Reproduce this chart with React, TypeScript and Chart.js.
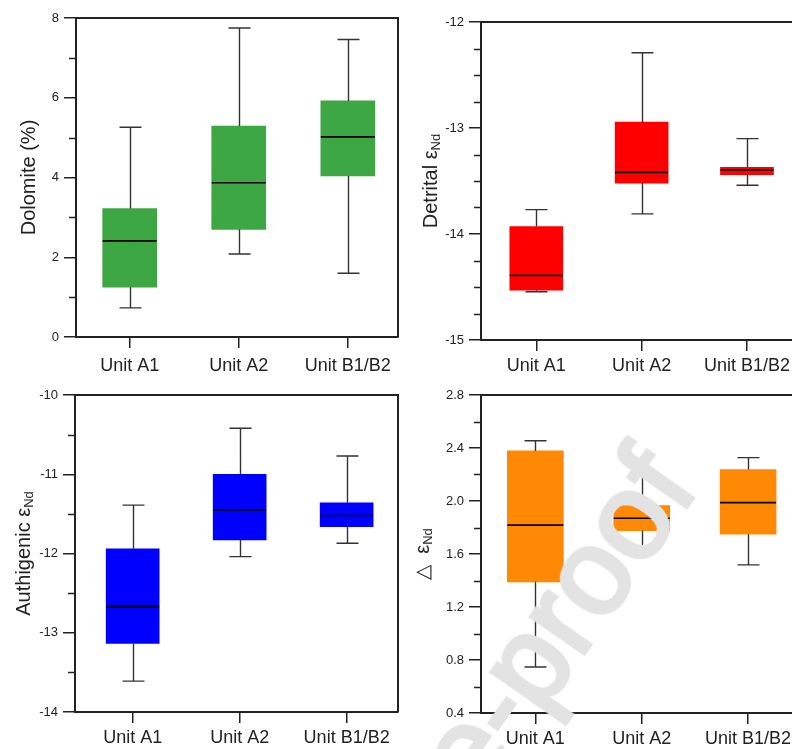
import React, { useEffect, useRef } from 'react';
import { Chart, registerables } from 'chart.js';

Chart.register(...registerables);

const categories = ['Unit A1', 'Unit A2', 'Unit B1/B2'];

// Dolomite (%)
const dolomiteMin = [0.73, 2.08, 1.6];
const dolomiteQ1 = [1.25, 2.7, 4.04];
const dolomiteMedian = [2.41, 3.87, 5.02];
const dolomiteQ3 = [3.22, 5.29, 5.92];
const dolomiteMax = [5.26, 7.75, 7.46];
const dolomiteTicks = [0, 2, 4, 6, 8];

// Detrital eNd
const detritalMin = [-14.545, -13.81, -13.54];
const detritalQ1 = [-14.53, -13.52, -13.44];
const detritalMedian = [-14.39, -13.42, -13.395];
const detritalQ3 = [-13.93, -12.945, -13.37];
const detritalMax = [-13.77, -12.29, -13.1];
const detritalTicks = [-15, -14, -13, -12];

// Authigenic eNd
const authigenicMin = [-13.61, -12.04, -11.87];
const authigenicQ1 = [-13.135, -11.83, -11.66];
const authigenicMedian = [-12.67, -11.45, -11.52];
const authigenicQ3 = [-11.94, -11.0, -11.36];
const authigenicMax = [-11.39, -10.42, -10.77];
const authigenicTicks = [-14, -13, -12, -11, -10];

// Delta eNd
const deltaMin = [0.747, 1.656, 1.518];
const deltaQ1 = [1.39, 1.777, 1.75];
const deltaMedian = [1.818, 1.87, 1.988];
const deltaQ3 = [2.378, 1.965, 2.237];
const deltaMax = [2.455, 2.24, 2.327];
const deltaTicks = [0.4, 0.8, 1.2, 1.6, 2.0, 2.4, 2.8];

const FONT = '"Liberation Sans", Arial, sans-serif';
const INK = '#222';

type Panel = {
  key: string;
  left: number; top: number; width: number; height: number;
  area: { left: number; top: number; right: number; bottom: number };
  xMin: number; xMax: number;
  ticks: number[]; minorDiv: number; decimals: number;
  mins: number[]; q1: number[]; medians: number[]; q3: number[]; maxs: number[];
  color: string; boxWidth: number; capWidth: number; labelPad: number;
  title: string; sub: string; titleX: number;
};

const panels: Panel[] = [
  {
    key: 'dolomite', left: 0, top: 0, width: 400, height: 380,
    area: { left: 76, top: 18, right: 398, bottom: 337 },
    xMin: 0.508, xMax: 3.46,
    ticks: dolomiteTicks, minorDiv: 2, decimals: 0,
    mins: dolomiteMin, q1: dolomiteQ1, medians: dolomiteMedian, q3: dolomiteQ3, maxs: dolomiteMax,
    color: '#3da843', boxWidth: 54, capWidth: 22, labelPad: 7,
    title: 'Dolomite (%)', sub: '', titleX: 34.5,
  },
  {
    key: 'detrital', left: 400, top: 0, width: 400, height: 380,
    area: { left: 81, top: 22, right: 395, bottom: 340 },
    xMin: 0.475, xMax: 3.456,
    ticks: detritalTicks, minorDiv: 4, decimals: 0,
    mins: detritalMin, q1: detritalQ1, medians: detritalMedian, q3: detritalQ3, maxs: detritalMax,
    color: '#ff0000', boxWidth: 53, capWidth: 22, labelPad: 4,
    title: 'Detrital ε', sub: 'Nd', titleX: 36.5,
  },
  {
    key: 'authigenic', left: 0, top: 380, width: 400, height: 369,
    area: { left: 75, top: 15, right: 398, bottom: 332 },
    xMin: 0.461, xMax: 3.48,
    ticks: authigenicTicks, minorDiv: 2, decimals: 0,
    mins: authigenicMin, q1: authigenicQ1, medians: authigenicMedian, q3: authigenicQ3, maxs: authigenicMax,
    color: '#0000ff', boxWidth: 53, capWidth: 22, labelPad: 4,
    title: 'Authigenic ε', sub: 'Nd', titleX: 29.5,
  },
  {
    key: 'delta', left: 400, top: 380, width: 400, height: 369,
    area: { left: 81, top: 15, right: 395, bottom: 333 },
    xMin: 0.489, xMax: 3.441,
    ticks: deltaTicks, minorDiv: 2, decimals: 1,
    mins: deltaMin, q1: deltaQ1, medians: deltaMedian, q3: deltaQ3, maxs: deltaMax,
    color: '#ff8804', boxWidth: 56, capWidth: 22, labelPad: 4,
    title: '\u25B3  ε', sub: 'Nd', titleX: 28.5,
  },
];

function makeBoxPlugin(p: Panel) {
  return {
    id: 'boxplot-' + p.key,
    afterDatasetsDraw(chart: any) {
      const ctx: CanvasRenderingContext2D = chart.ctx;
      const xs = chart.scales.x;
      const ys = chart.scales.y;
      const a = chart.chartArea;
      ctx.save();
      // whiskers and caps
      ctx.strokeStyle = '#333';
      ctx.lineWidth = 1.4;
      p.q1.forEach((_, i) => {
        const cx = Math.round(xs.getPixelForValue(i + 1)) + 0.5;
        const yMin = ys.getPixelForValue(p.mins[i]);
        const yQ1 = ys.getPixelForValue(p.q1[i]);
        const yQ3 = ys.getPixelForValue(p.q3[i]);
        const yMax = ys.getPixelForValue(p.maxs[i]);
        ctx.beginPath();
        ctx.moveTo(cx, yQ1);
        ctx.lineTo(cx, yMin);
        ctx.moveTo(cx, yQ3);
        ctx.lineTo(cx, yMax);
        ctx.moveTo(cx - p.capWidth / 2, yMin);
        ctx.lineTo(cx + p.capWidth / 2, yMin);
        ctx.moveTo(cx - p.capWidth / 2, yMax);
        ctx.lineTo(cx + p.capWidth / 2, yMax);
        ctx.stroke();
      });
      // medians
      ctx.strokeStyle = '#000';
      ctx.lineWidth = 1.6;
      p.medians.forEach((m, i) => {
        const cx = xs.getPixelForValue(i + 1);
        const y = ys.getPixelForValue(m);
        ctx.beginPath();
        ctx.moveTo(cx - p.boxWidth / 2, y);
        ctx.lineTo(cx + p.boxWidth / 2, y);
        ctx.stroke();
      });
      // frame (top + right)
      ctx.strokeStyle = INK;
      ctx.lineWidth = 2;
      ctx.beginPath();
      ctx.moveTo(a.left, a.top);
      ctx.lineTo(a.right, a.top);
      ctx.lineTo(a.right, a.bottom);
      ctx.stroke();
      // minor ticks
      ctx.lineWidth = 1.5;
      ctx.beginPath();
      for (let k = 0; k < p.ticks.length - 1; k++) {
        const lo = p.ticks[k];
        const hi = p.ticks[k + 1];
        for (let j = 1; j < p.minorDiv; j++) {
          const v = lo + ((hi - lo) * j) / p.minorDiv;
          const y = Math.round(ys.getPixelForValue(v)) + 0.5;
          ctx.moveTo(a.left - 7, y);
          ctx.lineTo(a.left, y);
        }
      }
      ctx.stroke();
      // y title with subscript
      const mainFont = '20px ' + FONT;
      const subFont = '13px ' + FONT;
      ctx.font = mainFont;
      const mw = ctx.measureText(p.title).width;
      ctx.font = subFont;
      const sw = p.sub ? ctx.measureText(p.sub).width : 0;
      const total = mw + sw;
      const cy = (a.top + a.bottom) / 2;
      ctx.translate(p.titleX, cy);
      ctx.rotate(-Math.PI / 2);
      ctx.fillStyle = INK;
      ctx.textBaseline = 'alphabetic';
      ctx.textAlign = 'left';
      ctx.font = mainFont;
      ctx.fillText(p.title, -total / 2, 0);
      if (p.sub) {
        ctx.font = subFont;
        ctx.fillText(p.sub, -total / 2 + mw, 3);
      }
      ctx.restore();
    },
  };
}

function BoxChart({ p }: { p: Panel }) {
  const ref = useRef<HTMLCanvasElement | null>(null);
  useEffect(() => {
    if (!ref.current) return;
    const chart = new Chart(ref.current, {
      type: 'bar',
      data: {
        datasets: [
          {
            data: p.q1.map((v, i) => ({ x: i + 1, y: [v, p.q3[i]] })) as any,
            backgroundColor: p.color,
            borderWidth: 0,
            barThickness: p.boxWidth,
          } as any,
        ],
      },
      options: {
        animation: false,
        responsive: false,
        devicePixelRatio: 1,
        layout: {
          padding: { left: 0, top: p.area.top, right: p.width - p.area.right, bottom: 0 },
        },
        plugins: { legend: { display: false }, tooltip: { enabled: false } },
        scales: {
          x: {
            type: 'linear',
            min: p.xMin,
            max: p.xMax,
            offset: false,
            bounds: 'data',
            afterBuildTicks: (s: any) => {
              s.ticks = categories.map((_, i) => ({ value: i + 1 }));
            },
            afterFit: (s: any) => {
              s.height = p.height - p.area.bottom;
            },
            ticks: {
              callback: (v: any) => categories[Math.round(Number(v)) - 1] ?? '',
              font: { family: FONT, size: 18 },
              color: INK,
              padding: p.labelPad,
              maxRotation: 0,
              autoSkip: false,
            },
            grid: { offset: false, drawOnChartArea: false, drawTicks: true, tickLength: 11, color: INK, lineWidth: 1.5 },
            border: { display: true, color: INK, width: 2 },
          },
          y: {
            type: 'linear',
            min: p.ticks[0],
            max: p.ticks[p.ticks.length - 1],
            afterBuildTicks: (s: any) => {
              s.ticks = p.ticks.map((v) => ({ value: v }));
            },
            afterFit: (s: any) => {
              s.width = p.area.left;
            },
            ticks: {
              callback: (v: any) => (p.decimals ? Number(v).toFixed(p.decimals) : String(v)),
              font: { family: FONT, size: 13 },
              color: INK,
              padding: 5,
              autoSkip: false,
            },
            grid: { drawOnChartArea: false, drawTicks: true, tickLength: 12, color: INK, lineWidth: 1.5 },
            border: { display: true, color: INK, width: 2 },
          },
        },
      } as any,
      plugins: [makeBoxPlugin(p)],
    });
    return () => chart.destroy();
  }, [p]);
  return (
    <canvas
      ref={ref}
      width={p.width}
      height={p.height}
      style={{ position: 'absolute', left: p.left, top: p.top, width: p.width, height: p.height }}
    />
  );
}

export default function App() {
  return (
    <div
      style={{
        position: 'fixed',
        left: 0,
        top: 0,
        width: 792,
        height: 749,
        overflow: 'hidden',
        background: '#fff',
      }}
    >
      {panels.map((p) => (
        <BoxChart key={p.key} p={p} />
      ))}
      <div
        style={{
          position: 'absolute',
          right: 126,
          top: 403,
          height: 122,
          lineHeight: '122px',
          fontSize: 122,
          fontFamily: FONT,
          color: '#e3e3e3',
          WebkitTextStroke: '4px #e3e3e3',
          whiteSpace: 'nowrap',
          transformOrigin: 'right center',
          transform: 'rotate(-55deg)',
          pointerEvents: 'none',
        } as any}
      >
        Journal Pre-proof
      </div>
    </div>
  );
}
